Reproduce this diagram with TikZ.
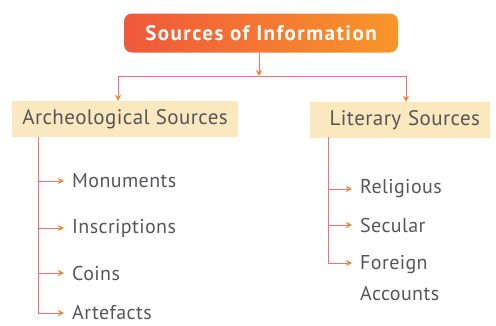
\documentclass[tikz,border=0pt]{standalone}
\usepackage{fontspec}
\setmainfont{PT Sans}
\usetikzlibrary{arrows.meta}

\definecolor{headred}{RGB}{240,88,60}
\definecolor{headorange}{RGB}{248,150,40}
\definecolor{boxfill}{RGB}{252,232,190}
\definecolor{linepink}{RGB}{246,110,120}
\definecolor{tiporange}{RGB}{246,130,40}
\definecolor{txtgray}{RGB}{85,85,90}

\tikzset{
  head/.style={rounded corners=8pt, left color=headred, right color=headorange,
    text=white, font=\fontsize{21}{24}\selectfont\bfseries\addfontfeature{LetterSpace=7},
    minimum width=274pt, minimum height=39pt, inner sep=0pt},
  source/.style={fill=boxfill, text=txtgray,
    font=\fontsize{21}{24}\selectfont\addfontfeature{LetterSpace=2},
    minimum height=36pt, inner sep=0pt},
  item/.style={anchor=west, text=txtgray,
    font=\fontsize{20}{31}\selectfont\addfontfeature{LetterSpace=2},
    align=left, inner sep=0pt},
  link/.style={draw=linepink, line width=0.8pt},
  arr/.style={link, -{Stealth[length=6pt, width=6pt, color=tiporange]}}
}

\begin{document}
\begin{tikzpicture}[x=1pt, y=-1pt]
        \useasboundingbox (0,0) rectangle (496,325);

        % Title
        \node[head] (title) at (261,33) {Sources of Information};

        % Two kinds of sources
        \node[source, minimum width=226pt] (arch) at (125,119) {Archeological Sources};
        \node[source, minimum width=180pt, text width=160pt, align=right] (lit) at (400,120) {Literary Sources};

        % Branching under the title
        \coordinate (jm) at (259,76);
        \coordinate (jl) at (118,76);
        \coordinate (jr) at (406,76);
        \draw[arr] (title.south -| jm) -- (jm);
        \draw[link] (jl) -- (jr);
        \draw[arr] (jl) -- (jl |- arch.north);
        \draw[arr] (jr) -- (jr |- lit.north);

        % Archeological items
        \node[item] (mon) at (72,181) {Monuments};
        \node[item] (ins) at (72,228) {Inscriptions};
        \node[item] (coi) at (72,273) {Coins};
        \node[item] (art) at (72,313) {Artefacts};
        \coordinate (atop) at (38,137);
        \draw[link] (atop) -- (atop |- art.west);
        \foreach \n in {mon, ins, coi, art}
          \draw[arr, shorten >=8pt] (atop |- \n.west) -- (\n.west);

        % Literary items
        \node[item] (rel) at (360,189) {Religious};
        \node[item] (sec) at (360,225) {Secular};
        \node[item, anchor=north west] (for) at (360,255) {Foreign\\Accounts};
        \coordinate (ltop) at (328,137);
        \coordinate (fora) at (328,263);
        \draw[link] (ltop) -- (fora);
        \foreach \n in {rel, sec}
          \draw[arr, shorten >=8pt] (ltop |- \n.west) -- (\n.west);
        \draw[arr, shorten >=8pt] (fora) -- (fora -| for.west);
\end{tikzpicture}
\end{document}
